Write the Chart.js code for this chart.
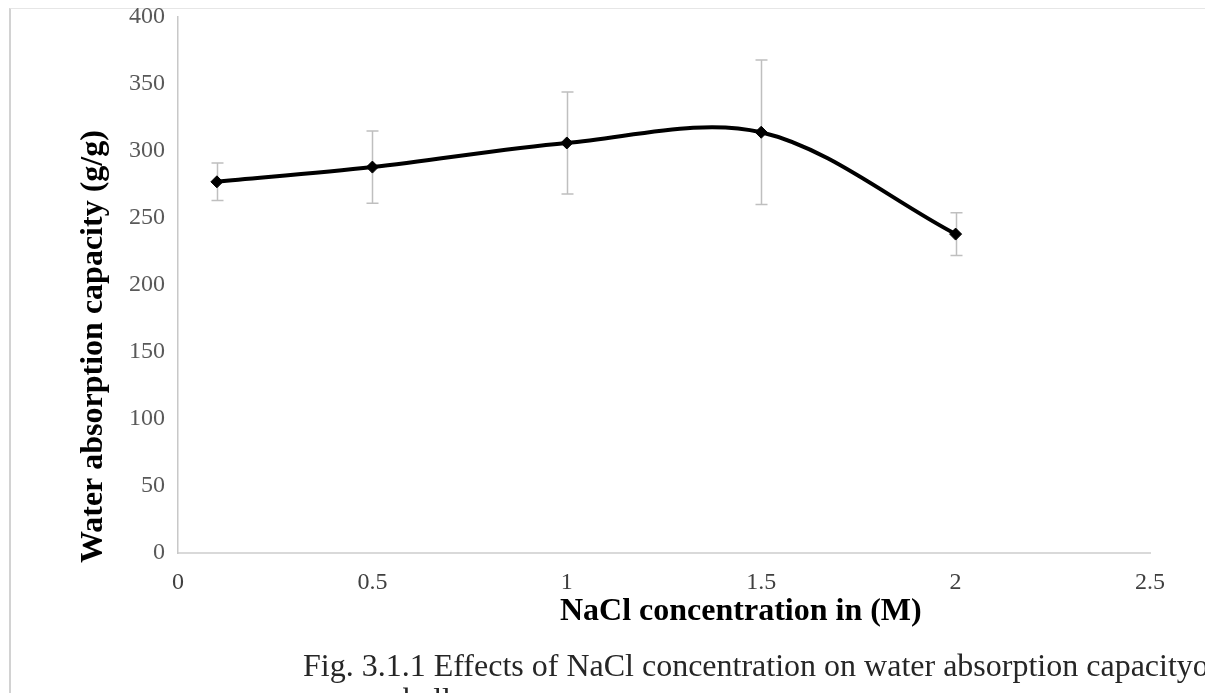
<!DOCTYPE html>
<html>
<head>
<meta charset="utf-8">
<script src="https://cdn.jsdelivr.net/npm/chart.js@4"></script>
<style>
  body { margin: 0; background: #fff; }
  #wrap { position: relative; width: 1205px; height: 693px; overflow: hidden; }
  #frame { position: absolute; left: 9px; top: 8px; right: 0; bottom: 0;
           border-left: 2px solid #d2d2d2; border-top: 1px solid #e6e6e6; }
  #grafico { position: absolute; left: 0; top: 0; }
</style>
</head>
<body>
<div id="wrap">
  <div id="frame"></div>
  <canvas id="grafico" width="1205" height="693"></canvas>
</div>
<script>
// dados
const concentracao = [0.1, 0.5, 1, 1.5, 2];
const absorcao = [277, 288, 306, 314, 238];
const erro = [14, 27, 38, 54, 16];

const xTicks = [0, 0.5, 1, 1.5, 2, 2.5];
const yTicks = [0, 50, 100, 150, 200, 250, 300, 350, 400];

const tituloX = 'NaCl concentration in (M)';
const tituloY = 'Water absorption capacity (g/g)';
const legenda1 = 'Fig. 3.1.1 Effects of NaCl concentration on water absorption capacityo';
const legenda2 = 'balls';

const serif = "'Liberation Serif', 'Times New Roman', serif";

// barras de erro + textos extras
const extras = {
    id: 'extras',
    beforeDatasetsDraw(chart) {
        const ctx = chart.ctx;
        const sx = chart.scales.x, sy = chart.scales.y;
        ctx.save();
        ctx.strokeStyle = '#bfbfbf';
        ctx.lineWidth = 1.5;
        for (let i = 0; i < concentracao.length; i++) {
            const x = Math.round(sx.getPixelForValue(concentracao[i])) + 0.5;
            const top = sy.getPixelForValue(absorcao[i] + erro[i]);
            const bot = sy.getPixelForValue(absorcao[i] - erro[i]);
            ctx.beginPath();
            ctx.moveTo(x, top); ctx.lineTo(x, bot);
            ctx.moveTo(x - 6, top); ctx.lineTo(x + 6, top);
            ctx.moveTo(x - 6, bot); ctx.lineTo(x + 6, bot);
            ctx.stroke();
        }
        ctx.restore();
    },
    afterDraw(chart) {
        const ctx = chart.ctx;
        ctx.save();
        ctx.fillStyle = '#000';
        ctx.font = 'bold 32px ' + serif;
        ctx.textBaseline = 'alphabetic';
        ctx.textAlign = 'left';
        ctx.fillText(tituloX, 560, 620);

        ctx.save();
        ctx.translate(102, 563);
        ctx.rotate(-Math.PI / 2);
        ctx.fillText(tituloY, 0, 0);
        ctx.restore();

        ctx.fillStyle = '#262626';
        ctx.font = '32px ' + serif;
        ctx.fillText(legenda1, 303, 676);
        ctx.fillText(legenda2, 403, 710);
        ctx.restore();
    }
};

new Chart(document.getElementById('grafico'), {
    type: 'line',
    data: {
        datasets: [{
            data: concentracao.map((c, i) => ({ x: c, y: absorcao[i] })),
            borderColor: '#000',
            backgroundColor: '#000',
            borderWidth: 4,
            tension: 0.33,
            pointStyle: 'rectRot',
            pointRadius: 6,
            pointBorderWidth: 1
        }]
    },
    options: {
        responsive: false,
        animation: false,
        layout: { padding: { top: 17, right: 55, left: 0, bottom: 0 } },
        plugins: { legend: { display: false }, tooltip: { enabled: false } },
        scales: {
            x: {
                type: 'linear',
                min: 0, max: 2.5,
                afterBuildTicks: s => { s.ticks = xTicks.map(v => ({ value: v })); },
                afterFit: s => { s.height = 140; },
                grid: { drawOnChartArea: false, drawTicks: false },
                border: { color: '#d9d9d9', width: 2 },
                ticks: {
                    color: '#404040', font: { family: serif, size: 24 }, padding: 15, maxRotation: 0,
                    callback: v => String(v)
                }
            },
            y: {
                min: 0, max: 400,
                afterBuildTicks: s => { s.ticks = yTicks.map(v => ({ value: v })); },
                afterFit: s => { s.width = 178; s.paddingTop = 0; s.paddingBottom = 0; },
                grid: { drawOnChartArea: false, drawTicks: false },
                border: { color: '#c8c8c8', width: 1.5 },
                ticks: { color: '#595959', font: { family: serif, size: 24 }, padding: 13 }
            }
        }
    },
    plugins: [extras]
});
</script>
</body>
</html>
